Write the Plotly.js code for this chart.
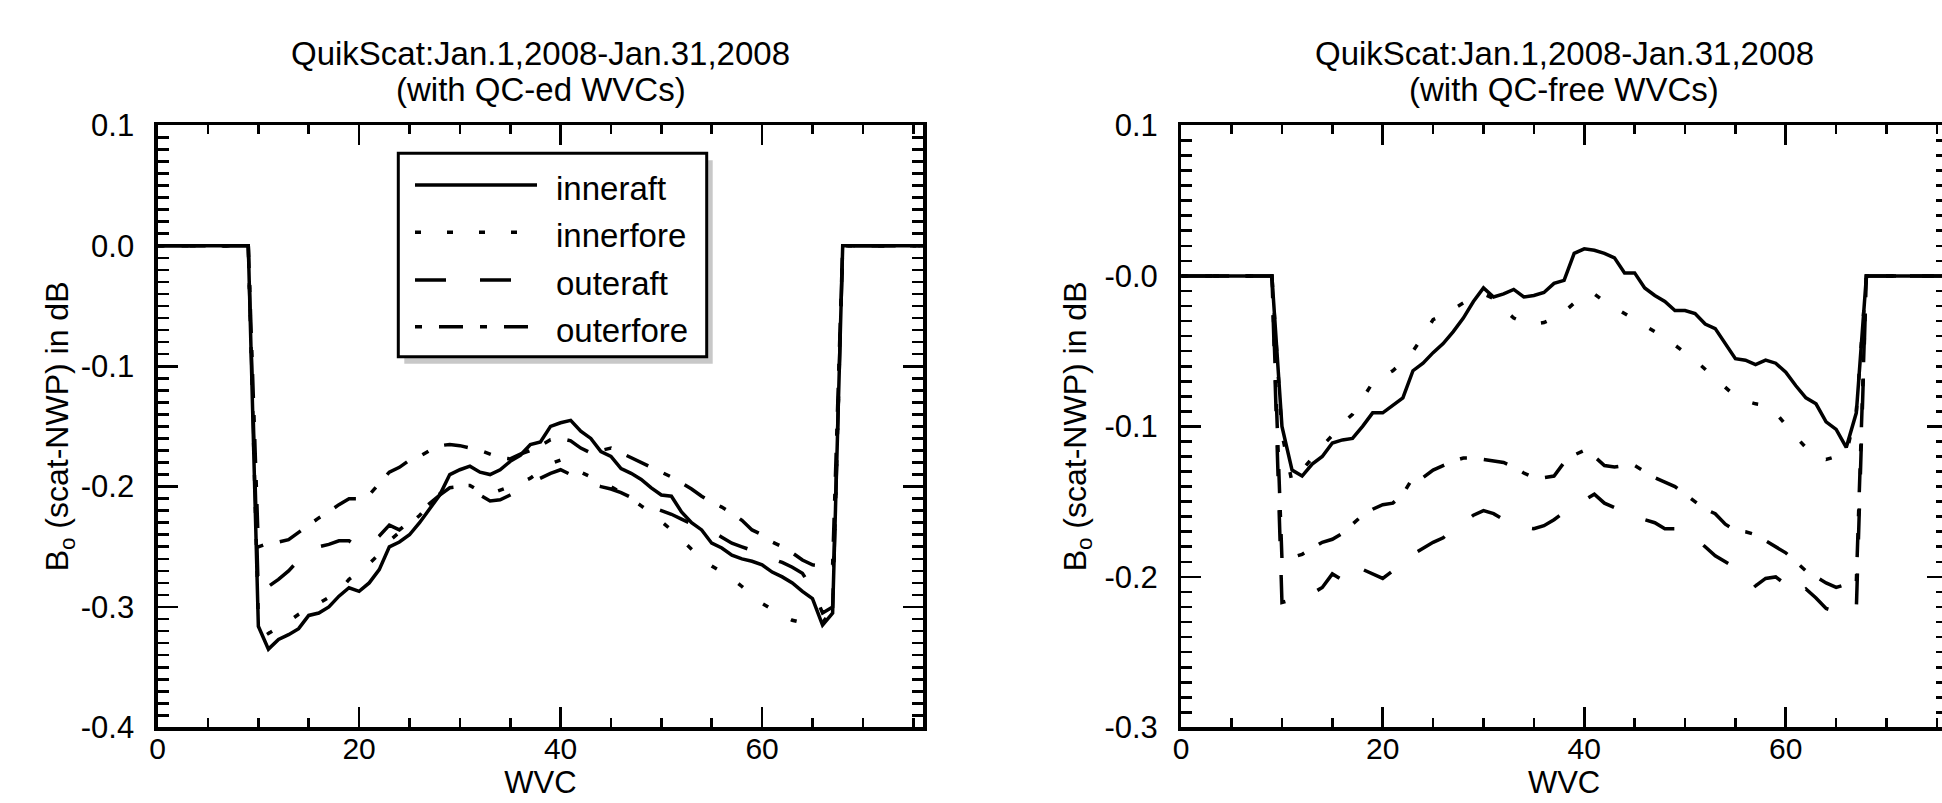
<!DOCTYPE html>
<html>
<head>
<meta charset="utf-8">
<script src="https://cdn.plot.ly/plotly-3.0.1.min.js"></script>
<style>
  html, body { margin: 0; padding: 0; background: #fff; overflow: hidden; }
  #chart { width: 1950px; height: 803px; }
</style>
</head>
<body>
<div id="chart"></div>
<script>
// ---------------- DATA ----------------
const wvc = [0,1,2,3,4,5,6,7,8,9,10,11,12,13,14,15,16,17,18,19,20,21,22,23,24,25,26,27,28,29,30,31,32,33,34,35,36,37,38,39,40,41,42,43,44,45,46,47,48,49,50,51,52,53,54,55,56,57,58,59,60,61,62,63,64,65,66,67,68,69,70,71,72,73,74,75,76];

const seriesNames = ['inneraft', 'innerfore', 'outeraft', 'outerfore'];

// Left panel: with QC-ed WVCs
const qcInneraft = [0,0,0,0,0,0,0,0,0,0,
  -0.316,-0.335,-0.327,-0.323,-0.318,-0.307,-0.305,-0.300,-0.291,-0.284,
  -0.287,-0.280,-0.269,-0.250,-0.246,-0.240,-0.230,-0.219,-0.207,-0.190,
  -0.186,-0.183,-0.188,-0.190,-0.186,-0.179,-0.174,-0.165,-0.163,-0.150,
  -0.147,-0.145,-0.154,-0.160,-0.171,-0.175,-0.185,-0.189,-0.194,-0.201,
  -0.207,-0.208,-0.221,-0.230,-0.236,-0.247,-0.251,-0.257,-0.260,-0.262,
  -0.265,-0.271,-0.275,-0.280,-0.287,-0.293,-0.315,-0.305,
  0,0,0,0,0,0,0,0,0];
const qcInnerfore = [0,0,0,0,0,0,0,0,0,0,
  -0.310,-0.322,-0.317,-0.312,-0.306,-0.301,-0.297,-0.292,-0.287,-0.277,
  -0.271,-0.264,-0.256,-0.245,-0.238,-0.231,-0.224,-0.215,-0.206,-0.200,
  -0.199,-0.199,-0.204,-0.206,-0.203,-0.200,-0.197,-0.193,-0.187,-0.181,
  -0.178,-0.182,-0.188,-0.192,-0.196,-0.200,-0.205,-0.210,-0.216,-0.222,
  -0.229,-0.236,-0.244,-0.252,-0.260,-0.266,-0.271,-0.276,-0.283,-0.290,
  -0.297,-0.302,-0.307,-0.311,-0.313,-0.314,-0.313,-0.302,
  0,0,0,0,0,0,0,0,0];
const qcOuteraft = [0,0,0,0,0,0,0,0,0,0,
  -0.290,-0.283,-0.277,-0.270,-0.261,-0.254,-0.250,-0.248,-0.245,-0.245,
  -0.251,-0.249,-0.241,-0.232,-0.236,-0.229,-0.221,-0.214,-0.207,-0.201,
  -0.200,-0.198,-0.207,-0.212,-0.211,-0.207,-0.203,-0.197,-0.193,-0.189,
  -0.186,-0.190,-0.195,-0.198,-0.200,-0.202,-0.205,-0.209,-0.213,-0.217,
  -0.220,-0.223,-0.227,-0.231,-0.233,-0.237,-0.242,-0.247,-0.250,-0.253,
  -0.256,-0.260,-0.263,-0.267,-0.272,-0.285,-0.305,-0.300,
  0,0,0,0,0,0,0,0,0];
const qcOuterfore = [0,0,0,0,0,0,0,0,0,0,
  -0.250,-0.247,-0.246,-0.244,-0.238,-0.232,-0.226,-0.221,-0.215,-0.210,
  -0.210,-0.207,-0.197,-0.188,-0.184,-0.178,-0.175,-0.170,-0.166,-0.165,
  -0.166,-0.168,-0.170,-0.173,-0.176,-0.177,-0.173,-0.170,-0.166,-0.161,
  -0.160,-0.162,-0.168,-0.172,-0.170,-0.168,-0.172,-0.176,-0.180,-0.184,
  -0.188,-0.192,-0.197,-0.202,-0.208,-0.213,-0.217,-0.222,-0.228,-0.236,
  -0.240,-0.246,-0.250,-0.255,-0.261,-0.265,-0.266,-0.265,
  0,0,0,0,0,0,0,0,0];

// Right panel: with QC-free WVCs
const qfInneraft = [0,0,0,0,0,0,0,0,0,0,
  -0.100,-0.129,-0.133,-0.125,-0.120,-0.111,-0.109,-0.108,-0.100,-0.091,
  -0.091,-0.086,-0.081,-0.063,-0.058,-0.051,-0.045,-0.037,-0.028,-0.017,
  -0.008,-0.014,-0.012,-0.009,-0.014,-0.013,-0.011,-0.005,-0.003,0.015,
  0.018,0.017,0.015,0.012,0.002,0.002,-0.008,-0.013,-0.017,-0.023,
  -0.023,-0.025,-0.032,-0.035,-0.045,-0.055,-0.056,-0.059,-0.056,-0.058,
  -0.064,-0.073,-0.081,-0.085,-0.097,-0.102,-0.114,-0.091,
  0,0,0,0,0,0,0,0,0];
const qfInnerfore = [0,0,0,0,0,0,0,0,0,0,
  -0.105,-0.137,-0.129,-0.121,-0.113,-0.106,-0.098,-0.092,-0.082,-0.071,
  -0.067,-0.063,-0.057,-0.050,-0.040,-0.029,-0.026,-0.022,-0.018,-0.014,
  -0.012,-0.015,-0.022,-0.028,-0.031,-0.032,-0.031,-0.028,-0.024,-0.018,
  -0.012,-0.012,-0.017,-0.021,-0.025,-0.029,-0.033,-0.037,-0.042,-0.046,
  -0.051,-0.056,-0.062,-0.068,-0.074,-0.080,-0.083,-0.085,-0.086,-0.091,
  -0.099,-0.107,-0.114,-0.120,-0.122,-0.120,-0.118,-0.090,
  0,0,0,0,0,0,0,0,0];
const qfOuteraft = [0,0,0,0,0,0,0,0,0,0,
  -0.217,-0.215,-0.213,-0.211,-0.207,-0.198,-0.202,-0.205,-0.195,-0.198,
  -0.201,-0.196,-0.189,-0.185,-0.181,-0.177,-0.174,-0.168,-0.164,-0.159,
  -0.156,-0.158,-0.162,-0.165,-0.167,-0.168,-0.166,-0.162,-0.157,-0.153,
  -0.149,-0.145,-0.151,-0.154,-0.156,-0.158,-0.162,-0.164,-0.168,-0.168,
  -0.170,-0.174,-0.180,-0.186,-0.190,-0.194,-0.198,-0.206,-0.201,-0.200,
  -0.205,-0.213,-0.208,-0.214,-0.221,-0.223,-0.223,-0.222,
  0,0,0,0,0,0,0,0,0];
const qfOuterfore = [0,0,0,0,0,0,0,0,0,0,
  -0.188,-0.187,-0.185,-0.181,-0.177,-0.175,-0.171,-0.165,-0.159,-0.155,
  -0.152,-0.151,-0.145,-0.134,-0.134,-0.129,-0.126,-0.123,-0.121,-0.121,
  -0.122,-0.123,-0.124,-0.127,-0.131,-0.134,-0.134,-0.133,-0.124,-0.119,
  -0.116,-0.120,-0.126,-0.127,-0.126,-0.126,-0.130,-0.134,-0.137,-0.140,
  -0.145,-0.150,-0.155,-0.158,-0.165,-0.169,-0.170,-0.172,-0.176,-0.180,
  -0.184,-0.190,-0.196,-0.200,-0.204,-0.207,-0.205,-0.204,
  0,0,0,0,0,0,0,0,0];

// Tick labels
const xTickVals = [0, 20, 40, 60];
const xTickText = ['0', '20', '40', '60'];
const yLeftTickVals = [-0.4, -0.3, -0.2, -0.1, 0, 0.1];
const yLeftTickText = ['-0.4', '-0.3', '-0.2', '-0.1', '0.0', '0.1'];
const yRightTickVals = [-0.3, -0.2, -0.1, 0, 0.1];
const yRightTickText = ['-0.3', '-0.2', '-0.1', '-0.0', '0.1'];

const titleLine1 = 'QuikScat:Jan.1,2008-Jan.31,2008';
const leftSubtitle = '(with QC-ed WVCs)';
const rightSubtitle = '(with QC-free WVCs)';
const xTitle = 'WVC';
const yTitle = 'B<sub>o</sub> (scat-NWP) in dB';

// ---------------- STYLE ----------------
const W = 1950, H = 803;
const FONT = 'Liberation Sans, Arial, Helvetica, sans-serif';
const px = x => x / W;
const py = y => 1 - y / H;
const dashes = {
  inneraft: 'solid',
  innerfore: '6px,26px',
  outeraft: '31px,34px',
  outerfore: '7px,17px,24px,17px'
};
const LW = 3.5;

function tr(y, name, xa, ya) {
  return {
    x: wvc, y: y, name: name, type: 'scatter', mode: 'lines',
    xaxis: xa, yaxis: ya, showlegend: false, hoverinfo: 'skip',
    line: { color: '#000', width: LW, dash: dashes[name] }
  };
}

const data = [
  tr(qcInneraft, 'inneraft', 'x', 'y'),
  tr(qcInnerfore, 'innerfore', 'x', 'y'),
  tr(qcOuteraft, 'outeraft', 'x', 'y'),
  tr(qcOuterfore, 'outerfore', 'x', 'y'),
  tr(qfInneraft, 'inneraft', 'x2', 'y2'),
  tr(qfInnerfore, 'innerfore', 'x2', 'y2'),
  tr(qfOuteraft, 'outeraft', 'x2', 'y2'),
  tr(qfOuterfore, 'outerfore', 'x2', 'y2')
];

function xAxis(domain, anchor) {
  return {
    domain: domain, anchor: anchor, range: [0, 76],
    showline: true, linewidth: 3.2, linecolor: '#000', mirror: 'ticks',
    showgrid: false, zeroline: false,
    tickmode: 'array', tickvals: xTickVals, ticktext: xTickText,
    ticks: 'inside', ticklen: 20, tickwidth: 2.6, tickcolor: '#000',
    minor: { dtick: 5, tick0: 0, ticks: 'inside', ticklen: 9, tickwidth: 2.6, tickcolor: '#000', showgrid: false },
    tickfont: { family: FONT, size: 30, color: '#000' },
    ticklabelstandoff: -8,
    title: { text: xTitle, font: { family: FONT, size: 31, color: '#000' }, standoff: 6 },
    fixedrange: true
  };
}
function yAxis(domain, anchor, range, vals, text, standoff) {
  return {
    domain: domain, anchor: anchor, range: range,
    showline: true, linewidth: 3.2, linecolor: '#000', mirror: 'ticks',
    showgrid: false, zeroline: false,
    tickmode: 'array', tickvals: vals, ticktext: text,
    ticks: 'inside', ticklen: 20, tickwidth: 2.6, tickcolor: '#000',
    minor: { dtick: 0.01, tick0: 0, ticks: 'inside', ticklen: 11, tickwidth: 2.6, tickcolor: '#000', showgrid: false },
    tickfont: { family: FONT, size: 31, color: '#000' },
    ticklabelstandoff: 14,
    title: { text: yTitle, font: { family: FONT, size: 32, color: '#000' }, standoff: standoff },
    fixedrange: true
  };
}

const yDom = [py(727.4), py(125.4)];
const layout = {
  width: W, height: H,
  margin: { l: 0, r: 0, t: 0, b: 0, pad: 0 },
  paper_bgcolor: '#fff', plot_bgcolor: '#fff',
  font: { family: FONT, color: '#000' },
  showlegend: false,
  xaxis: xAxis([px(157.6), px(923.3)], 'y'),
  yaxis: yAxis(yDom, 'x', [-0.4, 0.1], yLeftTickVals, yLeftTickText, 3),
  xaxis2: xAxis([px(1181.2), px(1947)], 'y2'),
  yaxis2: yAxis(yDom, 'x2', [-0.3, 0.1], yRightTickVals, yRightTickText, 9),
  shapes: [],
  annotations: []
};

function ann(text, x, y, size, opts) {
  return Object.assign({
    text: text, xref: 'paper', yref: 'paper', x: px(x), y: py(y),
    xanchor: 'center', yanchor: 'middle', showarrow: false,
    font: { family: FONT, size: size, color: '#000' }
  }, opts || {});
}

// Panel titles
const panels = [
  { cx: 540.5, sub: leftSubtitle },
  { cx: 1564, sub: rightSubtitle }
];
panels.forEach(p => {
  layout.annotations.push(ann(titleLine1, p.cx, 53.5, 33));
  layout.annotations.push(ann(p.sub, p.cx, 89, 33));
});

// Legend box (left panel)
const box = { x0: 398.3, x1: 706.7, y0: 153.3, y1: 356.7 };
layout.shapes.push({
  type: 'rect', xref: 'paper', yref: 'paper', layer: 'above',
  x0: px(box.x0 + 6), x1: px(box.x1 + 6), y0: py(box.y1 + 7), y1: py(box.y0 + 7),
  fillcolor: '#c8c8c8', line: { width: 0 }
});
layout.shapes.push({
  type: 'rect', xref: 'paper', yref: 'paper', layer: 'above',
  x0: px(box.x0), x1: px(box.x1), y0: py(box.y1), y1: py(box.y0),
  fillcolor: '#fff', line: { color: '#000', width: 3 }
});
const rowsY = [185, 232.3, 280, 326.7];
seriesNames.forEach((n, i) => {
  layout.shapes.push({
    type: 'line', xref: 'paper', yref: 'paper', layer: 'above',
    x0: px(415), x1: px(537), y0: py(rowsY[i]), y1: py(rowsY[i]),
    line: { color: '#000', width: LW, dash: dashes[n] }
  });
  layout.annotations.push(ann(n, 554, rowsY[i] + 3.5, 33, { xanchor: 'left' }));
});

Plotly.newPlot('chart', data, layout, { displayModeBar: false, staticPlot: true });
</script>
</body>
</html>
